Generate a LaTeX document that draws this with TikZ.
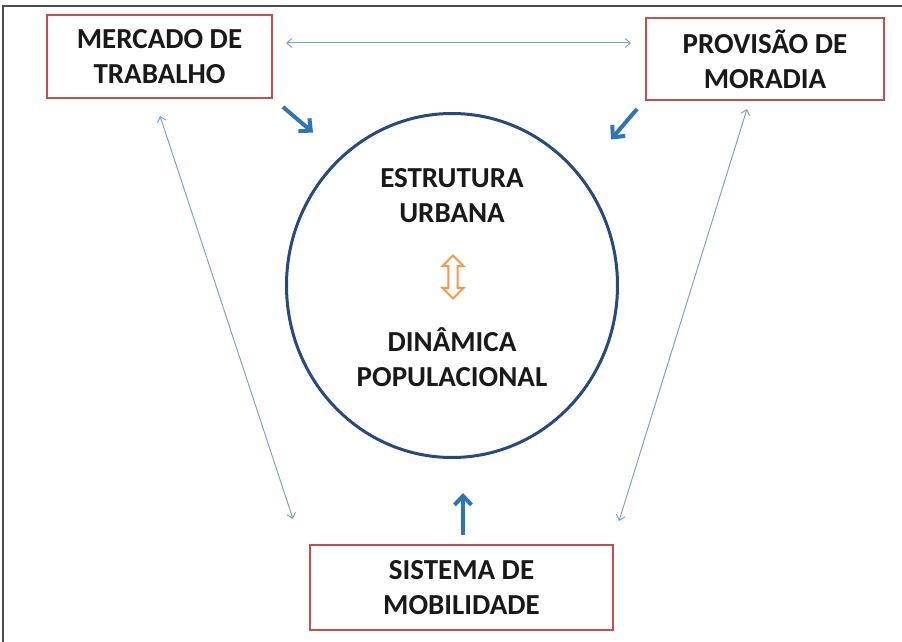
\documentclass[tikz,border=0pt]{standalone}
\usepackage{fontspec}
\setmainfont{Carlito}
\usetikzlibrary{arrows.meta,shapes.geometric,shapes.arrows}
\definecolor{caixared}{RGB}{192,80,77}
\definecolor{circblue}{RGB}{38,74,128}
\definecolor{setablue}{RGB}{46,117,182}
\definecolor{finablue}{RGB}{125,162,200}
\definecolor{laranja}{RGB}{247,150,70}
\definecolor{texto}{RGB}{25,25,25}
\begin{document}
\begin{tikzpicture}[x=0.5pt,y=-0.5pt,
  every node/.style = {align=center, text=texto,
    font=\bfseries\fontsize{14.5}{17.5}\selectfont},
  caixa/.style = {draw=caixared, line width=1pt, fill=white, inner sep=0pt},
  grossa/.style = {draw=setablue, line width=2pt,
    -{Straight Barb[length=4.5pt,width=8.5pt]}},
  fina/.style = {draw=finablue, line width=0.5pt,
    {Straight Barb[length=2.5pt,width=4.5pt]}-{Straight Barb[length=2.5pt,width=4.5pt]}}]
  \useasboundingbox (0,0) rectangle (902,642);
  \draw[black!70, line width=0.6pt] (3,642) -- (3,6) -- (902,6);
  \node[caixa, minimum width=112.5pt, minimum height=41.5pt] (mercado) at (159.5,56.5) {MERCADO DE\\TRABALHO};
  \node[caixa, minimum width=119pt, minimum height=41pt] (provisao) at (765,59) {PROVISÃO DE\\MORADIA};
  \node[caixa, minimum width=151.5pt, minimum height=42.5pt] (sistema) at (461.5,587.5) {SISTEMA DE\\MOBILIDADE};
  \node[ellipse, draw=circblue, line width=1.5pt, minimum width=165.5pt, minimum height=172pt, inner sep=0pt] (circ) at (452,285.5) {};
  \node (estrutura) at (452,196) {ESTRUTURA\\URBANA};
  \node (dinamica) at (452,357) {DINÂMICA\\POPULACIONAL};
  \node[double arrow, rotate=90, draw=laranja, fill=white, line width=1pt, minimum height=21.5pt,
    inner sep=1.8pt, double arrow head extend=3pt] (troca) at (453,277) {};
  \draw[fina] ([yshift=6.75pt]mercado.east) ++(13,0) -- ([shift={(-14,-16)}]provisao.west);
  \draw[fina] ([shift={(0.5,17)}]mercado.south) -- ([shift={(-16,-25)}]sistema.north west);
  \draw[fina] ([shift={(-18,8)}]provisao.south) -- ([shift={(5,-23)}]sistema.north east);
  \draw[grossa] ([shift={(10,8)}]mercado.south east) -- ([shift={(-139,-153)}]circ.center);
  \draw[grossa] ([shift={(-8,8)}]provisao.south west) -- ([shift={(159,-146)}]circ.center);
  \draw[grossa] ([shift={(1.5,-9)}]sistema.north) -- ([shift={(11,207.5)}]circ.center);
\end{tikzpicture}
\end{document}
